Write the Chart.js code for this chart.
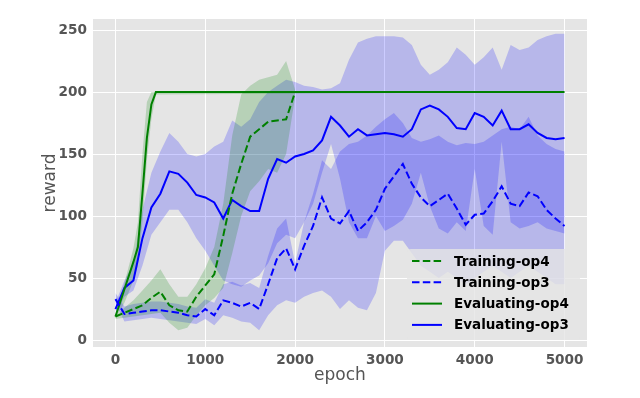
<!DOCTYPE html>
<html>
<head>
<meta charset="utf-8">
<script src="https://cdn.jsdelivr.net/npm/chart.js@4.4.1/dist/chart.umd.min.js"></script>
<style>
  html, body { margin: 0; padding: 0; background: #fff; }
</style>
</head>
<body>
<canvas id="myChart" width="640" height="398"></canvas>
<script>
// x positions (epochs) used by the op3 curves and the op4 training curve
const epochs = [0, 100, 200, 300, 400, 500, 600, 700, 800, 900,
    1000, 1100, 1200, 1300, 1400, 1500, 1600, 1700, 1800, 1900,
    2000, 2100, 2200, 2300, 2400, 2500, 2600, 2700, 2800, 2900,
    3000, 3100, 3200, 3300, 3400, 3500, 3600, 3700, 3800, 3900,
    4000, 4100, 4200, 4300, 4400, 4500, 4600, 4700, 4800, 4900, 5000];
const op4Epochs = epochs.slice(0, 21);
const evalOp4Epochs = [0, 100, 200, 250, 300, 350, 400, 450, 5000];

const xTicks = [0, 1000, 2000, 3000, 4000, 5000];
const yTicks = [0, 50, 100, 150, 200, 250];

// Training-op4 (green dashed) + band
const trainOp4 = [19, 22, 25, 28, 34, 39, 28, 24, 23, 35, 44, 53, 84, 118, 142, 164, 170, 176, 177, 178, 200];
const trainOp4Upper = [19, 26, 32, 40, 48, 57, 45, 35, 35, 45, 58, 75, 110, 165, 198, 205, 210, 212, 214, 225, 202];
const trainOp4Lower = [17, 18, 19, 20, 21, 22, 14, 8, 10, 20, 28, 34, 42, 70, 100, 120, 128, 138, 135, 150, 196];

// Training-op3 (blue dashed) + band
const trainOp3 = [33, 21, 22, 23, 24, 24, 23, 22, 20, 19, 25, 20, 32, 30, 27, 30, 25, 45, 66, 74,
    57, 76, 92, 115, 98, 94, 104, 88, 95, 105, 122, 132, 142, 126, 115, 108, 113, 118, 106, 93,
    101, 102, 112, 124, 110, 108, 119, 116, 105, 98, 92];
const trainOp3Upper = [38, 27, 29, 30, 31, 31, 30, 29, 27, 26, 33, 30, 45, 47, 44, 46, 42, 68, 90, 98,
    62, 95, 118, 145, 138, 152, 158, 160, 165, 172, 178, 183, 175, 163, 160, 162, 165, 160, 157, 159,
    158, 160, 165, 170, 172, 170, 180, 165, 158, 154, 152];
const trainOp3Lower = [30, 15, 16, 17, 18, 17, 16, 15, 14, 13, 17, 12, 20, 18, 15, 14, 8, 20, 28, 32,
    30, 35, 38, 40, 35, 25, 32, 26, 24, 38, 72, 80, 80, 70, 60, 55, 50, 55, 50, 45,
    50, 55, 60, 55, 50, 55, 60, 55, 50, 45, 45];

// Evaluating-op4 (green solid) + band
const evalOp4 = [19, 41, 63, 75, 118, 163, 190, 200, 200];
const evalOp4Upper = [20, 46, 74, 95, 150, 192, 200, 200, 200];
const evalOp4Lower = [17, 30, 48, 60, 95, 145, 178, 198, 200];

// Evaluating-op3 (blue solid) + band
const evalOp3 = [25, 42, 48, 82, 107, 118, 136, 134, 127, 117, 115, 111, 98, 113, 108, 104, 104, 130, 146, 143,
    148, 150, 153, 161, 180, 173, 164, 170, 165, 166, 167, 166, 164, 170, 186, 189, 186, 180, 171, 170,
    183, 180, 173, 185, 170, 170, 174, 167, 163, 162, 163];
const evalOp3Upper = [30, 48, 62, 105, 135, 152, 167, 160, 150, 148, 150, 156, 160, 177, 172, 178, 192, 200, 205, 210,
    208, 205, 204, 202, 203, 207, 226, 240, 243, 245, 245, 245, 244, 238, 222, 214, 218, 224, 236, 230,
    222, 228, 236, 218, 238, 234, 236, 242, 245, 247, 247];
const evalOp3Lower = [20, 35, 40, 60, 85, 95, 105, 105, 95, 82, 72, 60, 48, 45, 43, 48, 52, 62, 78, 85,
    82, 95, 110, 135, 158, 130, 95, 82, 82, 100, 88, 92, 97, 110, 135, 108, 90, 86, 95, 88,
    138, 92, 85, 160, 95, 90, 92, 95, 90, 88, 86];

const GREEN = '#008000';
const BLUE = '#0000ff';
const DASH = [7.5, 3.3];

function pts(xs, ys) {
    return ys.map((y, i) => ({x: xs[i], y: y}));
}

function band(xs, lo, hi, color) {
    return [
        {data: pts(xs, lo), borderColor: 'rgba(0,0,0,0)', borderWidth: 0, pointRadius: 0, fill: false, order: 1},
        {data: pts(xs, hi), borderColor: 'rgba(0,0,0,0)', borderWidth: 0, pointRadius: 0, fill: '-1', backgroundColor: color, order: 1}
    ];
}

function line(label, xs, ys, color, dash) {
    return {
        label: label, data: pts(xs, ys), borderColor: color, backgroundColor: color,
        borderWidth: 2, borderDash: dash, pointRadius: 0, fill: false, order: 0, isLegend: true
    };
}

const panelBg = {
    id: 'panelBg',
    beforeDraw(chart) {
        const {ctx, chartArea: a} = chart;
        ctx.save();
        ctx.fillStyle = '#E5E5E5';
        ctx.fillRect(a.left, a.top, a.right - a.left, a.bottom - a.top);
        ctx.restore();
    }
};

// matplotlib-like legend box in the lower right, drawn over the bands
const boxLegend = {
    id: 'boxLegend',
    afterDraw(chart) {
        const {ctx, chartArea: a} = chart;
        const items = chart.data.datasets.filter(d => d.isLegend);
        const w = 173, h = 91;
        const x0 = a.right - 7 - w, y0 = a.bottom - 7 - h;
        ctx.save();
        ctx.fillStyle = 'rgba(229,229,229,0.8)';
        ctx.beginPath();
        if (ctx.roundRect) ctx.roundRect(x0, y0, w, h, 4); else ctx.rect(x0, y0, w, h);
        ctx.fill();
        ctx.font = 'bold 13.5px "DejaVu Sans"';
        ctx.textBaseline = 'middle';
        ctx.fillStyle = '#000';
        items.forEach((d, i) => {
            const cy = y0 + 12 + i * 21.3;
            ctx.strokeStyle = d.borderColor;
            ctx.lineWidth = 2;
            ctx.setLineDash(d.borderDash);
            ctx.beginPath();
            ctx.moveTo(x0 + 5, cy);
            ctx.lineTo(x0 + 35, cy);
            ctx.stroke();
            ctx.setLineDash([]);
            ctx.fillText(d.label, x0 + 47, cy + 1);
        });
        ctx.restore();
    }
};

Chart.defaults.font.family = "'DejaVu Sans', sans-serif";

var chartc = new Chart(document.getElementById('myChart'), {
    type: 'line',
    data: {
        datasets: [
            line('Training-op4', op4Epochs, trainOp4, GREEN, DASH),
            line('Training-op3', epochs, trainOp3, BLUE, DASH),
            line('Evaluating-op4', evalOp4Epochs, evalOp4, GREEN, []),
            line('Evaluating-op3', epochs, evalOp3, BLUE, []),
            ...band(op4Epochs, trainOp4Lower, trainOp4Upper, 'rgba(0,128,0,0.2)'),
            ...band(epochs, trainOp3Lower, trainOp3Upper, 'rgba(0,0,255,0.2)'),
            ...band(evalOp4Epochs, evalOp4Lower, evalOp4Upper, 'rgba(0,128,0,0.2)'),
            ...band(epochs, evalOp3Lower, evalOp3Upper, 'rgba(0,0,255,0.2)')
        ]
    },
    options: {
        responsive: false,
        animation: false,
        layout: {padding: {top: 19, right: 53, bottom: 0, left: 0}},
        plugins: {
            legend: {display: false},
            tooltip: {enabled: false}
        },
        scales: {
            x: {
                type: 'linear', min: -250, max: 5250,
                grid: {color: '#ffffff', lineWidth: 1, drawTicks: false},
                border: {display: false},
                ticks: {color: '#555555', font: {size: 13.6, weight: 'bold'}, padding: 5, maxRotation: 0,
                    callback: v => String(v)},
                afterBuildTicks: s => { s.ticks = xTicks.map(v => ({value: v})); },
                afterFit: s => { s.height = 51; },
                title: {display: true, text: 'epoch', color: '#555555', font: {size: 17}, padding: {top: 0, bottom: 12}}
            },
            y: {
                type: 'linear', min: -5.6, max: 258.9,
                grid: {color: '#ffffff', lineWidth: 1, drawTicks: false},
                border: {display: false},
                ticks: {color: '#555555', font: {size: 13.6, weight: 'bold'}, padding: 6,
                    callback: v => String(v)},
                afterBuildTicks: s => { s.ticks = yTicks.map(v => ({value: v})); },
                afterFit: s => { s.width = 93; },
                title: {display: true, text: 'reward', color: '#555555', font: {size: 17}, padding: {top: 40, bottom: 0}}
            }
        }
    },
    plugins: [panelBg, boxLegend]
});
</script>
</body>
</html>
